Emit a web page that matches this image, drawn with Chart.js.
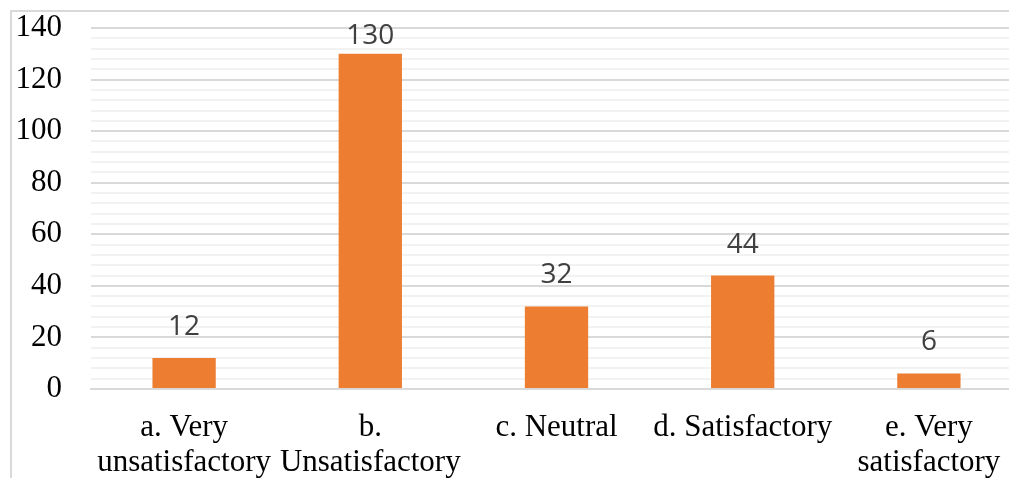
<!DOCTYPE html>
<html>
<head>
<meta charset="utf-8">
<script src="https://cdn.jsdelivr.net/npm/chart.js@4"></script>
<style>
  html, body { margin: 0; padding: 0; background: #fff; overflow: hidden; }
  #frame { position: absolute; left: 10px; top: 10px; width: 1100px; height: 600px; border: 2px solid #d9d9d9; }
  #wrap { position: absolute; left: 0; top: 0; width: 1040px; height: 482px; }
</style>
</head>
<body>
<div id="frame"></div>
<div id="wrap"><canvas id="chartSatisf"></canvas></div>
<script>
const categories = [
    ['a. Very', 'unsatisfactory'],
    ['b.', 'Unsatisfactory'],
    'c. Neutral',
    'd. Satisfactory',
    ['e. Very', 'satisfactory']
];
const counts = [12, 130, 32, 44, 6];
const yTicks = [0, 20, 40, 60, 80, 100, 120, 140];

const orange = '#ed7d31';
const major = '#d9d9d9';
const minor = '#f2f2f2';
const serif = "'Liberation Serif', 'Times New Roman', serif";

// value labels above each bar, kept inside the plot area
const barValues = {
    id: 'barValues',
    afterDatasetsDraw(chart) {
        const ctx = chart.ctx;
        const meta = chart.getDatasetMeta(0);
        const minY = chart.chartArea.top + 8;
        ctx.save();
        ctx.fillStyle = '#404040';
        ctx.font = "28px 'Open Sans', sans-serif";
        ctx.textAlign = 'center';
        ctx.textBaseline = 'middle';
        meta.data.forEach((bar, i) => {
            ctx.fillText(String(counts[i]), bar.x, Math.max(bar.y - 31, minY));
        });
        ctx.restore();
    }
};

new Chart(document.getElementById('chartSatisf'), {
    type: 'bar',
    data: {
        labels: categories,
        datasets: [{
            data: counts,
            backgroundColor: orange,
            barPercentage: 1,
            categoryPercentage: 0.34
        }]
    },
    options: {
        responsive: true,
        maintainAspectRatio: false,
        animation: false,
        layout: { padding: { top: 28, right: 18, bottom: 0, left: 0 } },
        plugins: {
            legend: { display: false },
            tooltip: { enabled: false }
        },
        scales: {
            x: {
                afterFit: s => { s.height = 93; s.paddingLeft = 0; s.paddingRight = 0; },
                grid: { display: false },
                border: { display: true, color: major, width: 2 },
                ticks: {
                    color: '#000',
                    padding: 13,
                    maxRotation: 0,
                    autoSkip: false,
                    font: { family: serif, size: 31, lineHeight: 1.13 }
                }
            },
            y: {
                min: 0,
                max: 140,
                afterFit: s => { s.width = 91; s.paddingTop = 0; s.paddingBottom = 0; },
                border: { display: false },
                grid: {
                    drawTicks: false,
                    lineWidth: 2,
                    color: c => (c.tick && yTicks.includes(c.tick.value)) ? major : minor
                },
                ticks: {
                    stepSize: 4,
                    padding: 29,
                    color: '#000',
                    autoSkip: false,
                    font: { family: serif, size: 31 },
                    callback: v => yTicks.includes(v) ? v : ''
                }
            }
        }
    },
    plugins: [barValues]
});
</script>
</body>
</html>
